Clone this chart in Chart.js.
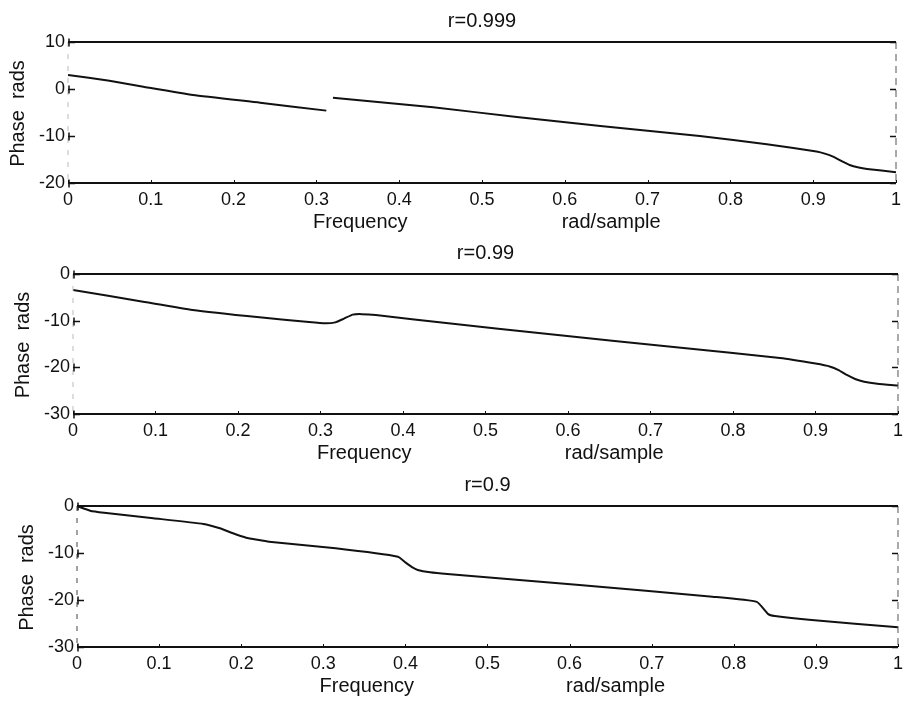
<!DOCTYPE html>
<html>
<head>
<meta charset="utf-8">
<title>Phase response</title>
<script src="https://cdn.jsdelivr.net/npm/chart.js@4/dist/chart.umd.min.js"></script>
<style>
  html, body { margin: 0; padding: 0; background: #fff; }
  #wrap { position: relative; width: 909px; height: 701px; overflow: hidden; }
  #wrap canvas { position: absolute; left: 0; top: 0; }
</style>
</head>
<body>
<div id="wrap">
  <canvas id="p1" width="909" height="701"></canvas>
  <canvas id="p2" width="909" height="701"></canvas>
  <canvas id="p3" width="909" height="701"></canvas>
</div>
<script>
// ---- data ----
const freqTickValues = [0, 0.1, 0.2, 0.3, 0.4, 0.5, 0.6, 0.7, 0.8, 0.9, 1];
const freqTickLabels = ['0', '0.1', '0.2', '0.3', '0.4', '0.5', '0.6', '0.7', '0.8', '0.9', '1'];

const phaseTicksA = [10, 0, -10, -20];
const phaseTicksB = [0, -10, -20, -30];

// r = 0.999 (the phase wraps just above 0.31, hence the break)
const freqR999  = [0, 0.05, 0.091, 0.151, 0.232, 0.312, 0.316, 0.32, 0.441, 0.542, 0.643, 0.763, 0.844, 0.904, 0.915, 0.924, 0.935, 0.944, 0.955, 0.965, 1.0];
const phaseR999 = [2.98, 1.75, 0.49, -1.28, -2.91, -4.6, null, -1.85, -3.9, -5.95, -7.85, -10.0, -11.75, -13.3, -13.8, -14.4, -15.4, -16.17, -16.7, -17.0, -17.7];

// r = 0.99
const freqR99  = [0, 0.085, 0.145, 0.226, 0.286, 0.306, 0.318, 0.328, 0.339, 0.35, 0.367, 0.455, 0.576, 0.737, 0.857, 0.9, 0.918, 0.928, 0.938, 0.948, 0.959, 0.975, 1.0];
const phaseR99 = [-3.43, -5.93, -7.7, -9.29, -10.3, -10.57, -10.36, -9.6, -8.7, -8.6, -8.79, -10.57, -12.86, -15.8, -18.0, -19.2, -19.86, -20.6, -21.64, -22.5, -23.07, -23.5, -23.9];

// r = 0.9
const freqR9  = [0, 0.016, 0.033, 0.093, 0.154, 0.174, 0.19, 0.206, 0.22, 0.234, 0.315, 0.391, 0.4, 0.408, 0.415, 0.43, 0.451, 0.612, 0.774, 0.828, 0.842, 0.85, 0.895, 1.0];
const phaseR9 = [0, -1.0, -1.43, -2.6, -3.83, -4.75, -5.8, -6.74, -7.2, -7.6, -9.0, -10.78, -12.0, -13.0, -13.6, -14.1, -14.47, -16.8, -19.3, -20.4, -23.0, -23.4, -24.26, -25.8];

// ---- drawing ----
const FONT = '"Liberation Sans", Arial, Helvetica, sans-serif';
const INK = '#111';

function toPoints(xs, ys) {
  return xs.map((x, i) => ({ x: x, y: ys[i] }));
}

// frame, inward ticks and the text around each panel
const panelDecor = {
  id: 'panelDecor',
  afterDraw(chart, args, opts) {
    const ctx = chart.ctx;
    const a = chart.chartArea;
    const yScale = chart.scales.y;
    const xScale = chart.scales.x;
    ctx.save();

    // top and bottom edges
    ctx.strokeStyle = INK;
    ctx.lineWidth = 2;
    ctx.beginPath();
    ctx.moveTo(a.left, a.top); ctx.lineTo(a.right, a.top);
    ctx.moveTo(a.left, a.bottom); ctx.lineTo(a.right, a.bottom);
    ctx.stroke();

    // faint dashed side edges
    ctx.lineWidth = 1;
    ctx.strokeStyle = opts.leftColor;
    ctx.setLineDash([5, 7]);
    ctx.beginPath();
    ctx.moveTo(a.left, a.top); ctx.lineTo(a.left, a.bottom);
    ctx.stroke();
    ctx.strokeStyle = '#555';
    ctx.setLineDash([7, 5]);
    ctx.beginPath();
    ctx.moveTo(a.right, a.top); ctx.lineTo(a.right, a.bottom);
    ctx.stroke();
    ctx.setLineDash([]);

    // inward y ticks on both sides
    ctx.strokeStyle = INK;
    ctx.lineWidth = 1.5;
    yScale.ticks.forEach(t => {
      const py = Math.round(yScale.getPixelForValue(t.value)) + 0.5;
      ctx.beginPath();
      ctx.moveTo(a.left, py); ctx.lineTo(a.left + 7, py);
      ctx.moveTo(a.right, py); ctx.lineTo(a.right - 6, py);
      ctx.stroke();
      ctx.beginPath();
      ctx.moveTo(a.left + 1, py - 4); ctx.lineTo(a.left + 1, py + 4);
      ctx.stroke();
    });
    // tiny x ticks along the bottom edge
    ctx.lineWidth = 1;
    xScale.ticks.forEach(t => {
      const px = Math.round(xScale.getPixelForValue(t.value)) + 0.5;
      ctx.beginPath();
      ctx.moveTo(px, a.bottom); ctx.lineTo(px, a.bottom - 3);
      ctx.stroke();
    });

    // title
    ctx.fillStyle = INK;
    ctx.font = '20px ' + FONT;
    ctx.textAlign = 'center';
    ctx.textBaseline = 'alphabetic';
    ctx.fillText(opts.title, (a.left + a.right) / 2, a.top - 15);

    // x-axis caption in two parts
    const w = a.right - a.left;
    ctx.fillText('Frequency', a.left + w * 0.353, a.bottom + 45);
    ctx.fillText('rad/sample', a.left + w * 0.656, a.bottom + 45);

    // y-axis caption
    ctx.translate(opts.yTitleX, (a.top + a.bottom) / 2 + 1);
    ctx.rotate(-Math.PI / 2);
    ctx.textBaseline = 'middle';
    ctx.fillText('Phase  rads', 0, 0);
    ctx.restore();
  }
};

function makePanel(id, geom, xs, ys, yTicks, title, leftColor) {
  const ctx = document.getElementById(id).getContext('2d');
  const X_H = 30;
  return new Chart(ctx, {
    type: 'line',
    data: {
      datasets: [{
        data: toPoints(xs, ys),
        borderColor: INK,
        borderWidth: 2,
        pointRadius: 0,
        fill: false,
        spanGaps: false,
        tension: 0.15
      }]
    },
    options: {
      responsive: false,
      animation: false,
      devicePixelRatio: 1,
      layout: {
        padding: { left: 0, top: geom.top, right: 909 - geom.right, bottom: 701 - geom.bottom - X_H }
      },
      plugins: {
        legend: { display: false },
        tooltip: { enabled: false },
        title: { display: false },
        panelDecor: { title: title, yTitleX: geom.yTitleX, leftColor: leftColor }
      },
      scales: {
        x: {
          type: 'linear',
          min: 0, max: 1,
          afterBuildTicks: s => { s.ticks = freqTickValues.map(v => ({ value: v })); },
          afterFit: s => { s.height = X_H; },
          ticks: {
            padding: 6,
            color: INK,
            font: { family: FONT, size: 18 },
            maxRotation: 0,
            autoSkip: false,
            callback: (v, i) => freqTickLabels[i]
          },
          grid: { display: false, drawTicks: false },
          border: { display: false }
        },
        y: {
          type: 'linear',
          min: Math.min(...yTicks), max: Math.max(...yTicks),
          afterBuildTicks: s => { s.ticks = yTicks.map(v => ({ value: v })); },
          afterFit: s => { s.width = geom.left; },
          ticks: {
            padding: 3,
            color: INK,
            font: { family: FONT, size: 18 },
            autoSkip: false,
            callback: v => String(v)
          },
          grid: { display: false, drawTicks: false },
          border: { display: false }
        }
      }
    },
    plugins: [panelDecor]
  });
}

makePanel('p1', { left: 68, right: 896, top: 42, bottom: 183, yTitleX: 18 }, freqR999, phaseR999, phaseTicksA, 'r=0.999', '#bbb');
makePanel('p2', { left: 73, right: 901, top: 274, bottom: 414, yTitleX: 23 }, freqR99, phaseR99, phaseTicksB, 'r=0.99', '#bbb');
makePanel('p3', { left: 77, right: 904, top: 506, bottom: 647, yTitleX: 27 }, freqR9, phaseR9, phaseTicksB, 'r=0.9', '#444');
</script>
</body>
</html>
